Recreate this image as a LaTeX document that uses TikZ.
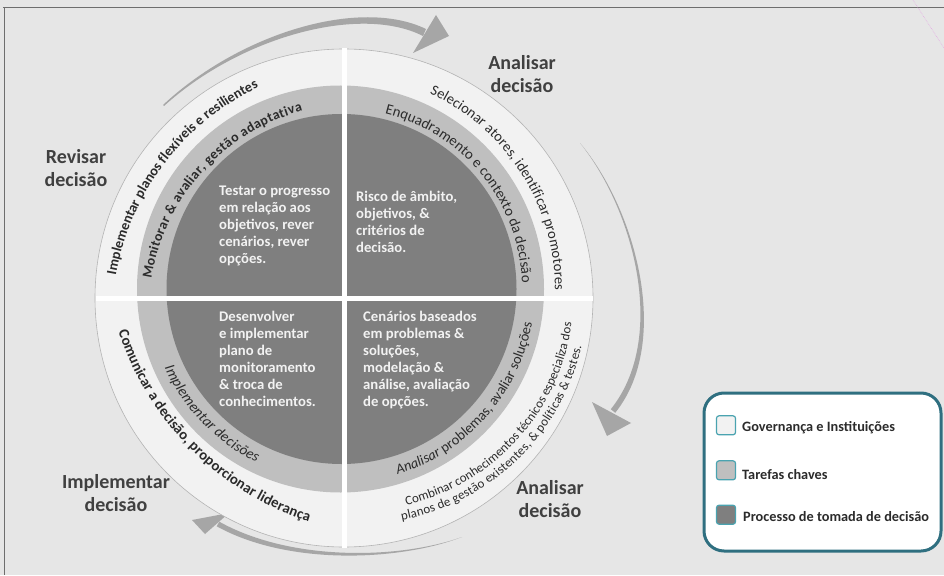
\documentclass[tikz,border=0pt]{standalone}
\usepackage{fontspec}
\setmainfont{Carlito}
\usetikzlibrary{decorations.text}
\definecolor{bg}{HTML}{E6E6E6}
\definecolor{ringA}{HTML}{F2F2F2}
\definecolor{ringB}{HTML}{BFBFBF}
\definecolor{ringC}{HTML}{7F7F7F}
\definecolor{arrowgray}{HTML}{A6A6A6}
\definecolor{labeltxt}{HTML}{404040}
\definecolor{ringtxt}{HTML}{2B2B2B}
\definecolor{innertxt}{HTML}{F2F2F2}
\definecolor{legendborder}{HTML}{2F6F80}
\definecolor{sqborder}{HTML}{4AA3B0}
\definecolor{framecol}{HTML}{6E6E6E}
\definecolor{pinkline}{HTML}{E4A8E4}
\definecolor{circleedge}{HTML}{B4B4B4}
\newcommand\fTLo{\fontsize{14.2}{16}\selectfont\bfseries}
\newcommand\fTLm{\fontsize{13.9}{16}\selectfont\bfseries}
\newcommand\fTRo{\fontsize{14.6}{16}\selectfont}
\newcommand\fTRm{\fontsize{14.8}{16}\selectfont}
\newcommand\fBLo{\fontsize{14.8}{16}\selectfont\bfseries}
\newcommand\fBLm{\fontsize{14.8}{16}\selectfont\itshape}
\newcommand\fBRi{\fontsize{14.4}{16}\selectfont\itshape}
\newcommand\fBRm{\fontsize{14.4}{16}\selectfont}
\newcommand\fBRo{\fontsize{12.9}{14}\selectfont}
\begin{document}
\begin{tikzpicture}[x=1pt,y=1pt,
  phaselabel/.style={font=\fontsize{20}{23.5}\selectfont\bfseries, text=labeltxt, align=center, inner sep=0},
  innertext/.style={font=\fontsize{14.7}{17}\selectfont\bfseries, text=innertxt, align=left, anchor=north west, inner sep=0},
  legendsq/.style={draw=sqborder, line width=1.2, rounded corners=2.5, minimum size=19, inner sep=0},
  legendtxt/.style={font=\fontsize{14.3}{16}\selectfont\bfseries, text=ringtxt, anchor=base west, inner sep=0},
  ringtext/.style={decorate, decoration={text along path, text align={fit to path}, text color=ringtxt, text={#1}}},
  gapline/.style={white, line width=5},
]
\useasboundingbox (0,0) rectangle (944,-575);
\fill[bg] (0,0) rectangle (944,-575);
% frame lines
\draw[framecol, line width=1] (3,-7.3) -- (944,-7.3);
\draw[framecol, line width=1] (4.8,-7.3) -- (4.8,-575);
\draw[pinkline, densely dotted, line width=0.6] (913,0) -- (944,-48);

% cycle arrows
\fill[arrowgray] (163,-105) .. controls (240,-33) and (360,3) .. (426,-29) -- (423,-36) .. controls (360,-4) and (240,-37) .. (164,-106) -- cycle;
\fill[arrowgray] (449,-36) -- (436,-15) -- (413,-53) -- cycle;
\fill[arrowgray] (580,-143) .. controls (635.8,-209.4) and (672.2,-341.8) .. (615.2,-412.8) -- (610.8,-409.2) .. controls (667.8,-338.2) and (634.2,-210.6) .. (580,-143) -- cycle;
\fill[arrowgray] (607,-436) -- (592,-402) -- (631,-423) -- cycle;
\fill[arrowgray] (462,-537) .. controls (400.3,-560.8) and (288.8,-566.2) .. (216.7,-526.3) -- (219.3,-521.7) .. controls (291.2,-561.8) and (399.7,-559.2) .. (462,-537) -- cycle;
\fill[arrowgray] (192,-520) -- (229,-513) -- (205,-534) -- cycle;

% rings
\fill[ringA] (344,-298) circle[radius=249];
\draw[circleedge, line width=0.6] (344,-298) circle[radius=249];
\fill[ringB] (340.5,-289) circle[radius=203.5];
\fill[ringC] (341.5,-289) circle[radius=175];
\draw[gapline] (344,-48.5) -- (344,-547.5);
\draw[gapline] (95.5,-298) -- (592.5,-298);

% ring texts
\path[ringtext={|\fTLo|Implementar planos flexíveis e resilientes}]
  ([shift={(370,-320)}]170:258) arc[start angle=170, end angle=116, radius=258];
\path[ringtext={|\fTLm|Monitorar {\&} avaliar, gestão adaptativa}]
  ([shift={(356,-311)}]171:207) arc[start angle=171, end angle=105, radius=207];
\path[ringtext={|\fTRo|Selecionar atores, identificar promotores}]
  ([shift={(338,-290)}]65:217) arc[start angle=65, end angle=0, radius=217];
\path[ringtext={|\fTRm|Enquadramento e contexto da decisão}]
  ([shift={(341,-289)}]76:181) arc[start angle=76, end angle=2, radius=181];
\path[ringtext={|\fBLo|Comunicar a decisão, proporcionar liderança}]
  ([shift={(400,-240)}]198:296) arc[start angle=198, end angle=252, radius=296];
\path[ringtext={|\fBLm|Implementar decisões}]
  ([shift={(341,-289)}]204:193) arc[start angle=204, end angle=244, radius=193];
\path[ringtext={|\fBRi|Analisar |\fBRm|problemas, avaliar soluções}]
  ([shift={(341,-289)}]287:194) arc[start angle=287, end angle=350, radius=194];
\path[ringtext={|\fBRo|Combinar conhecimentos técnicos especializa dos}]
  ([shift={(358,-295)}]283:215.5) arc[start angle=283, end angle=352.5, radius=215.5];
\path[ringtext={|\fBRo|planos de gestão existentes, {\&} políticas {\&} testes.}]
  ([shift={(358,-295)}]281:229.5) arc[start angle=281, end angle=347, radius=229.5];

% inner texts
\node[innertext] (tl) at (219,-186) {Testar o progresso\\em relação aos\\objetivos, rever\\cenários, rever\\opções.};
\node[innertext] (tr) at (356,-191) {Risco de âmbito,\\objetivos, \&\\critérios de\\decisão.};
\node[innertext] (bl) at (219,-311) {Desenvolver\\e implementar\\plano de\\monitoramento\\\& troca de\\conhecimentos.};
\node[innertext] (br) at (363,-311) {Cenários baseados\\em problemas \&\\soluções,\\modelação \&\\análise, avaliação\\de opções.};

% phase labels
\node[phaselabel] (lanalisar1) at (522,-74) {Analisar\\decisão};
\node[phaselabel] (lrevisar) at (76,-168) {Revisar\\decisão};
\node[phaselabel] (limplementar) at (116,-493) {Implementar\\decisão};
\node[phaselabel] (lanalisar2) at (550,-499) {Analisar\\decisão};

% legend
\draw[legendborder, line width=3, fill=white, rounded corners=20] (704,-393) rectangle (941,-551);
\node[legendsq, fill=ringA] (sq1) at (726,-425.3) {};
\node[legendsq, fill=ringB] (sq2) at (726,-470.3) {};
\node[legendsq, fill=ringC] (sq3) at (726,-514.7) {};
\node[legendtxt] (lg1) at (742,-431.7) {Governança e Instituições};
\node[legendtxt] (lg2) at (742,-479.3) {Tarefas chaves};
\node[legendtxt] (lg3) at (743,-521.7) {Processo de tomada de decisão};
\end{tikzpicture}
\end{document}
